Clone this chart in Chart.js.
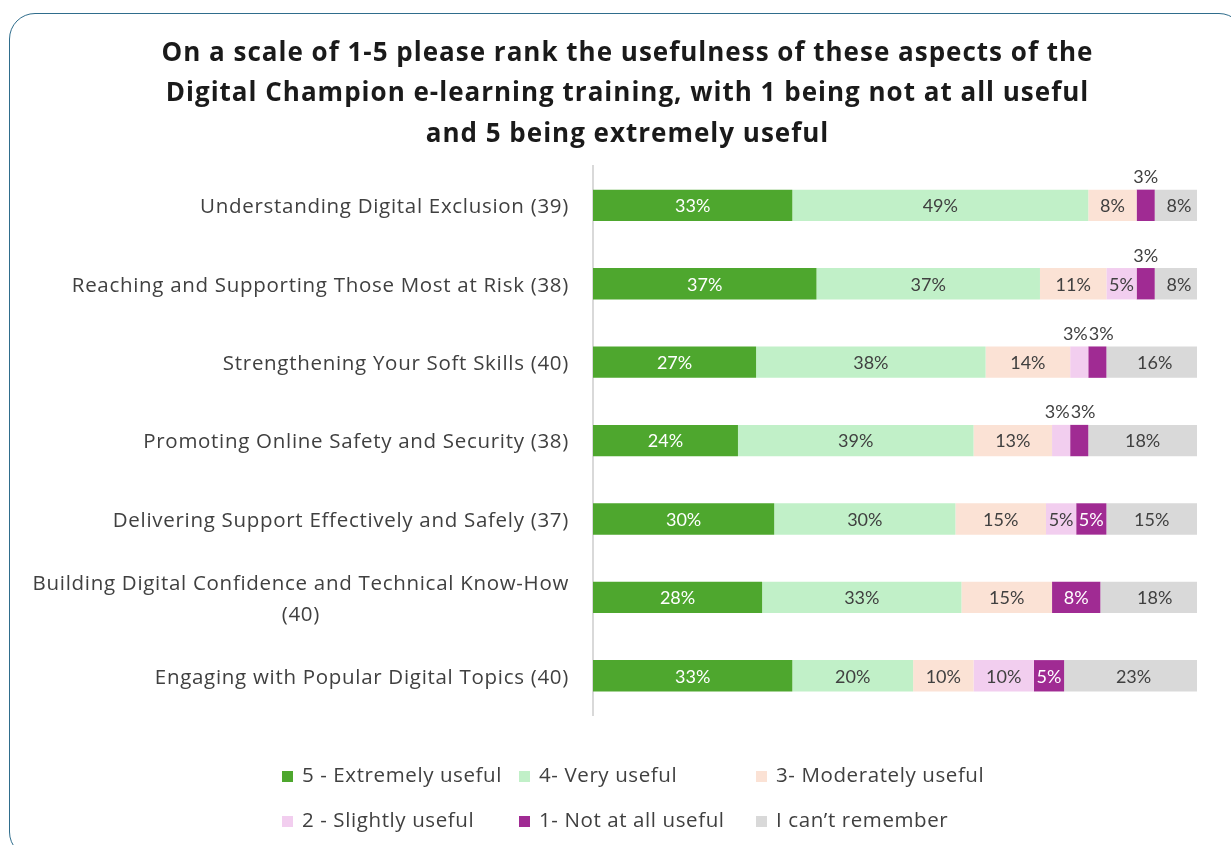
<!DOCTYPE html>
<html>
<head>
<meta charset="utf-8">
<title>Digital Champion e-learning training</title>
<script src="https://cdn.jsdelivr.net/npm/chart.js@4.4.1/dist/chart.umd.min.js"></script>
<style>
  html, body { margin: 0; padding: 0; background: #fff; overflow: hidden; width: 1231px; height: 845px; }
  #card {
    position: absolute; left: 9px; top: 13px; width: 1236px; height: 845px;
    border: 1.5px solid #2f6d8c; border-radius: 26px; box-sizing: border-box;
  }
  #wrap { position: absolute; left: 0; top: 0; width: 1231px; height: 845px; }
</style>
</head>
<body>
<div id="card"></div>
<div id="wrap"><canvas id="chart"></canvas></div>
<script>
// survey modules, respondent count in brackets
const categories = [
  'Understanding Digital Exclusion (39)',
  'Reaching and Supporting Those Most at Risk (38)',
  'Strengthening Your Soft Skills (40)',
  'Promoting Online Safety and Security (38)',
  'Delivering Support Effectively and Safely (37)',
  ['Building Digital Confidence and Technical Know-How', '(40)'],
  'Engaging with Popular Digital Topics (40)'
];

// % of respondents per rating
const extremely    = [33, 37, 27, 24, 30, 28, 33];
const very         = [49, 37, 38, 39, 30, 33, 20];
const moderately   = [8, 11, 14, 13, 15, 15, 10];
const slightly     = [0, 5, 3, 3, 5, 0, 10];
const notAtAll     = [3, 3, 3, 3, 5, 8, 5];
const cantRemember = [8, 8, 16, 18, 15, 18, 23];

const seriesNames = ['5 - Extremely useful', '4- Very useful', '3- Moderately useful',
  '2 - Slightly useful', '1- Not at all useful', 'I can\u2019t remember'];
const seriesColors = ['#4ea72e', '#c1f0c8', '#fbe2d5', '#f2ceef', '#a02b93', '#d9d9d9'];
const labelColors = ['#ffffff', '#404040', '#404040', '#404040', '#ffffff', '#404040'];
const seriesData = [extremely, very, moderately, slightly, notAtAll, cantRemember];

const TEXT_FONT = '"Open Sans", "Noto Sans", sans-serif';
const VALUE_FONT = 'Lato, "Open Sans", sans-serif';

// a bit of tracking on the title (drawn before the bars)
const titleSpacing = {
  id: 'titleSpacing',
  beforeDraw(chart) { chart.ctx.letterSpacing = '1px'; },
  beforeDatasetsDraw(chart) { chart.ctx.letterSpacing = '0px'; }
};

// category names to the left of the axis
const categoryLabels = {
  id: 'categoryLabels',
  afterDraw(chart) {
    const ctx = chart.ctx, y = chart.scales.y;
    const right = y.right - 24;
    ctx.save();
    ctx.font = '20.5px ' + TEXT_FONT;
    ctx.letterSpacing = '0.7px';
    ctx.fillStyle = '#404040';
    ctx.textBaseline = 'middle';
    categories.forEach((c, i) => {
      const cy = y.getPixelForValue(i) + 2;
      if (Array.isArray(c)) {
        const w = Math.max(...c.map(s => ctx.measureText(s).width));
        const lh = 31;
        ctx.textAlign = 'center';
        c.forEach((s, k) => ctx.fillText(s, right - w / 2, cy + (k - (c.length - 1) / 2) * lh));
      } else {
        ctx.textAlign = 'right';
        ctx.fillText(c, right, cy);
      }
    });
    ctx.restore();
  }
};

// percentage labels; small segments get theirs above the bar,
// pushed apart when two of them sit side by side
const valueLabels = {
  id: 'valueLabels',
  afterDatasetsDraw(chart) {
    const ctx = chart.ctx;
    ctx.save();
    ctx.font = '18px ' + VALUE_FONT;
    ctx.textAlign = 'center';
    ctx.textBaseline = 'middle';
    const above = {};
    chart.data.datasets.forEach((ds, di) => {
      chart.getDatasetMeta(di).data.forEach((bar, i) => {
        const v = ds.data[i];
        if (!v) return;
        const cx = (bar.x + bar.base) / 2;
        const txt = v + '%';
        if (v <= 3) {
          (above[i] = above[i] || []).push({ x: cx, y: bar.y - 28, txt });
        } else {
          ctx.fillStyle = labelColors[di];
          ctx.fillText(txt, cx, bar.y + 1);
        }
      });
    });
    ctx.fillStyle = '#404040';
    Object.values(above).forEach(list => {
      for (let k = 1; k < list.length; k++) {
        const a = list[k - 1], b = list[k];
        const need = (ctx.measureText(a.txt).width + ctx.measureText(b.txt).width) / 2 + 1;
        const gap = b.x - a.x;
        if (gap < need) {
          const shift = (need - gap) / 2;
          a.x -= shift;
          b.x += shift;
        }
      }
      list.forEach(l => ctx.fillText(l.txt, l.x, l.y));
    });
    ctx.restore();
  }
};

// two-row legend laid out in columns
const gridLegend = {
  id: 'gridLegend',
  afterDraw(chart) {
    const ctx = chart.ctx;
    const cols = [282, 519, 756];
    const rows = [776, 821];
    ctx.save();
    ctx.font = '20.5px ' + TEXT_FONT;
    ctx.letterSpacing = '0.6px';
    ctx.textBaseline = 'middle';
    ctx.textAlign = 'left';
    seriesNames.forEach((name, i) => {
      const x = cols[i % 3], y = rows[Math.floor(i / 3)];
      ctx.fillStyle = seriesColors[i];
      ctx.fillRect(x, y - 5, 11, 11);
      ctx.fillStyle = '#404040';
      ctx.fillText(name, x + 20, y);
    });
    ctx.restore();
  }
};

new Chart('chart', {
  type: 'bar',
  data: {
    labels: categories,
    datasets: seriesData.map((d, i) => ({
      label: seriesNames[i],
      data: d,
      backgroundColor: seriesColors[i],
      borderWidth: 0,
      barPercentage: 0.4,
      categoryPercentage: 1
    }))
  },
  options: {
    indexAxis: 'y',
    responsive: true,
    maintainAspectRatio: false,
    animation: false,
    layout: { padding: { top: 13, left: 58, right: 34, bottom: 130 } },
    scales: {
      x: { stacked: true, min: 0, max: 100, display: false },
      y: {
        stacked: true,
        grid: { display: false },
        ticks: { display: false },
        border: { display: true, color: '#d9d9d9', width: 2 },
        afterFit(s) { s.width = 535; }
      }
    },
    plugins: {
      legend: { display: false },
      tooltip: { enabled: false },
      title: {
        display: true,
        text: [
          'On a scale of 1-5 please rank the usefulness of these aspects of the',
          'Digital Champion e-learning training, with 1 being not at all useful',
          'and 5 being extremely useful'
        ],
        color: '#1a1a1a',
        font: { family: TEXT_FONT, size: 26, weight: 'bold', lineHeight: 1.54 },
        padding: { top: 21, bottom: 12 }
      }
    }
  },
  plugins: [titleSpacing, categoryLabels, valueLabels, gridLegend]
});
</script>
</body>
</html>
